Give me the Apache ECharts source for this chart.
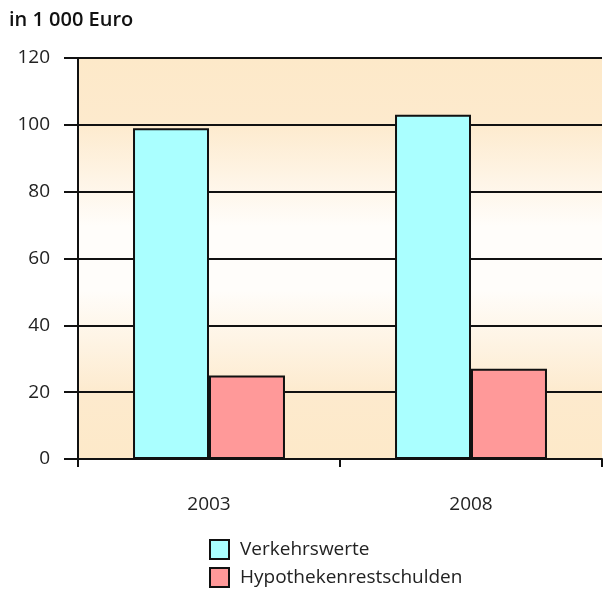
<!DOCTYPE html>
<html lang="de">
<head>
<meta charset="UTF-8">
<title>Verkehrswerte und Hypothekenrestschulden</title>
<script src="https://cdn.jsdelivr.net/npm/echarts@6/dist/echarts.min.js"></script>
<style>
  html, body { margin: 0; padding: 0; background: #fff; }
  #main { width: 604px; height: 594px; }
</style>
</head>
<body>
<div id="main"></div>
<script>
var jahre = ['2003', '2008'];
var verkehrswerte = [99, 103];
var restschulden = [25, 27];

var chart = echarts.init(document.getElementById('main'));
var fontFam = '"Open Sans", "Noto Sans", sans-serif';

chart.setOption({
  animation: false,
  title: {
    text: 'in 1 000 Euro',
    left: 4,
    top: 5,
    textStyle: { fontFamily: fontFam, fontSize: 20, fontWeight: 600, color: '#111' }
  },
  legend: {
    orient: 'vertical',
    left: 209,
    top: 539,
    padding: 0,
    itemWidth: 19,
    itemHeight: 19,
    itemGap: 7,
    icon: 'rect',
    textStyle: { fontFamily: fontFam, fontSize: 19, color: '#222', padding: [0, 0, 0, 6] },
    data: ['Verkehrswerte', 'Hypothekenrestschulden']
  },
  grid: {
    left: 78,
    right: 2,
    top: 58,
    bottom: 135,
    show: true,
    borderWidth: 0,
    backgroundColor: {
      type: 'linear', x: 0, y: 0, x2: 0, y2: 1,
      colorStops: [
        { offset: 0, color: '#fde9c9' },
        { offset: 0.16, color: '#fdeacd' },
        { offset: 0.42, color: '#fffdfa' },
        { offset: 0.58, color: '#fffdfa' },
        { offset: 0.84, color: '#fdeacd' },
        { offset: 1, color: '#fde9c9' }
      ]
    }
  },
  xAxis: {
    type: 'category',
    data: jahre,
    axisLine: { show: true, lineStyle: { color: '#111', width: 2 } },
    axisTick: { show: true, length: 8, lineStyle: { color: '#111', width: 2 } },
    axisLabel: { fontFamily: fontFam, fontSize: 19, color: '#222', margin: 36 }
  },
  yAxis: {
    type: 'value',
    min: 0,
    max: 120,
    interval: 20,
    axisLine: { show: true, lineStyle: { color: '#111', width: 2 } },
    axisTick: { show: true, length: 14, lineStyle: { color: '#111', width: 2 } },
    axisLabel: { fontFamily: fontFam, fontSize: 19, color: '#222', margin: 28 },
    splitLine: { show: true, lineStyle: { color: '#111', width: 2 } }
  },
  series: [
    {
      name: 'Verkehrswerte',
      type: 'bar',
      data: verkehrswerte,
      barGap: '0%',
      barCategoryGap: '42%',
      itemStyle: { color: '#aaffff', borderColor: '#111', borderWidth: 2 }
    },
    {
      name: 'Hypothekenrestschulden',
      type: 'bar',
      data: restschulden,
      itemStyle: { color: '#ff9999', borderColor: '#111', borderWidth: 2 }
    }
  ]
});
</script>
</body>
</html>
